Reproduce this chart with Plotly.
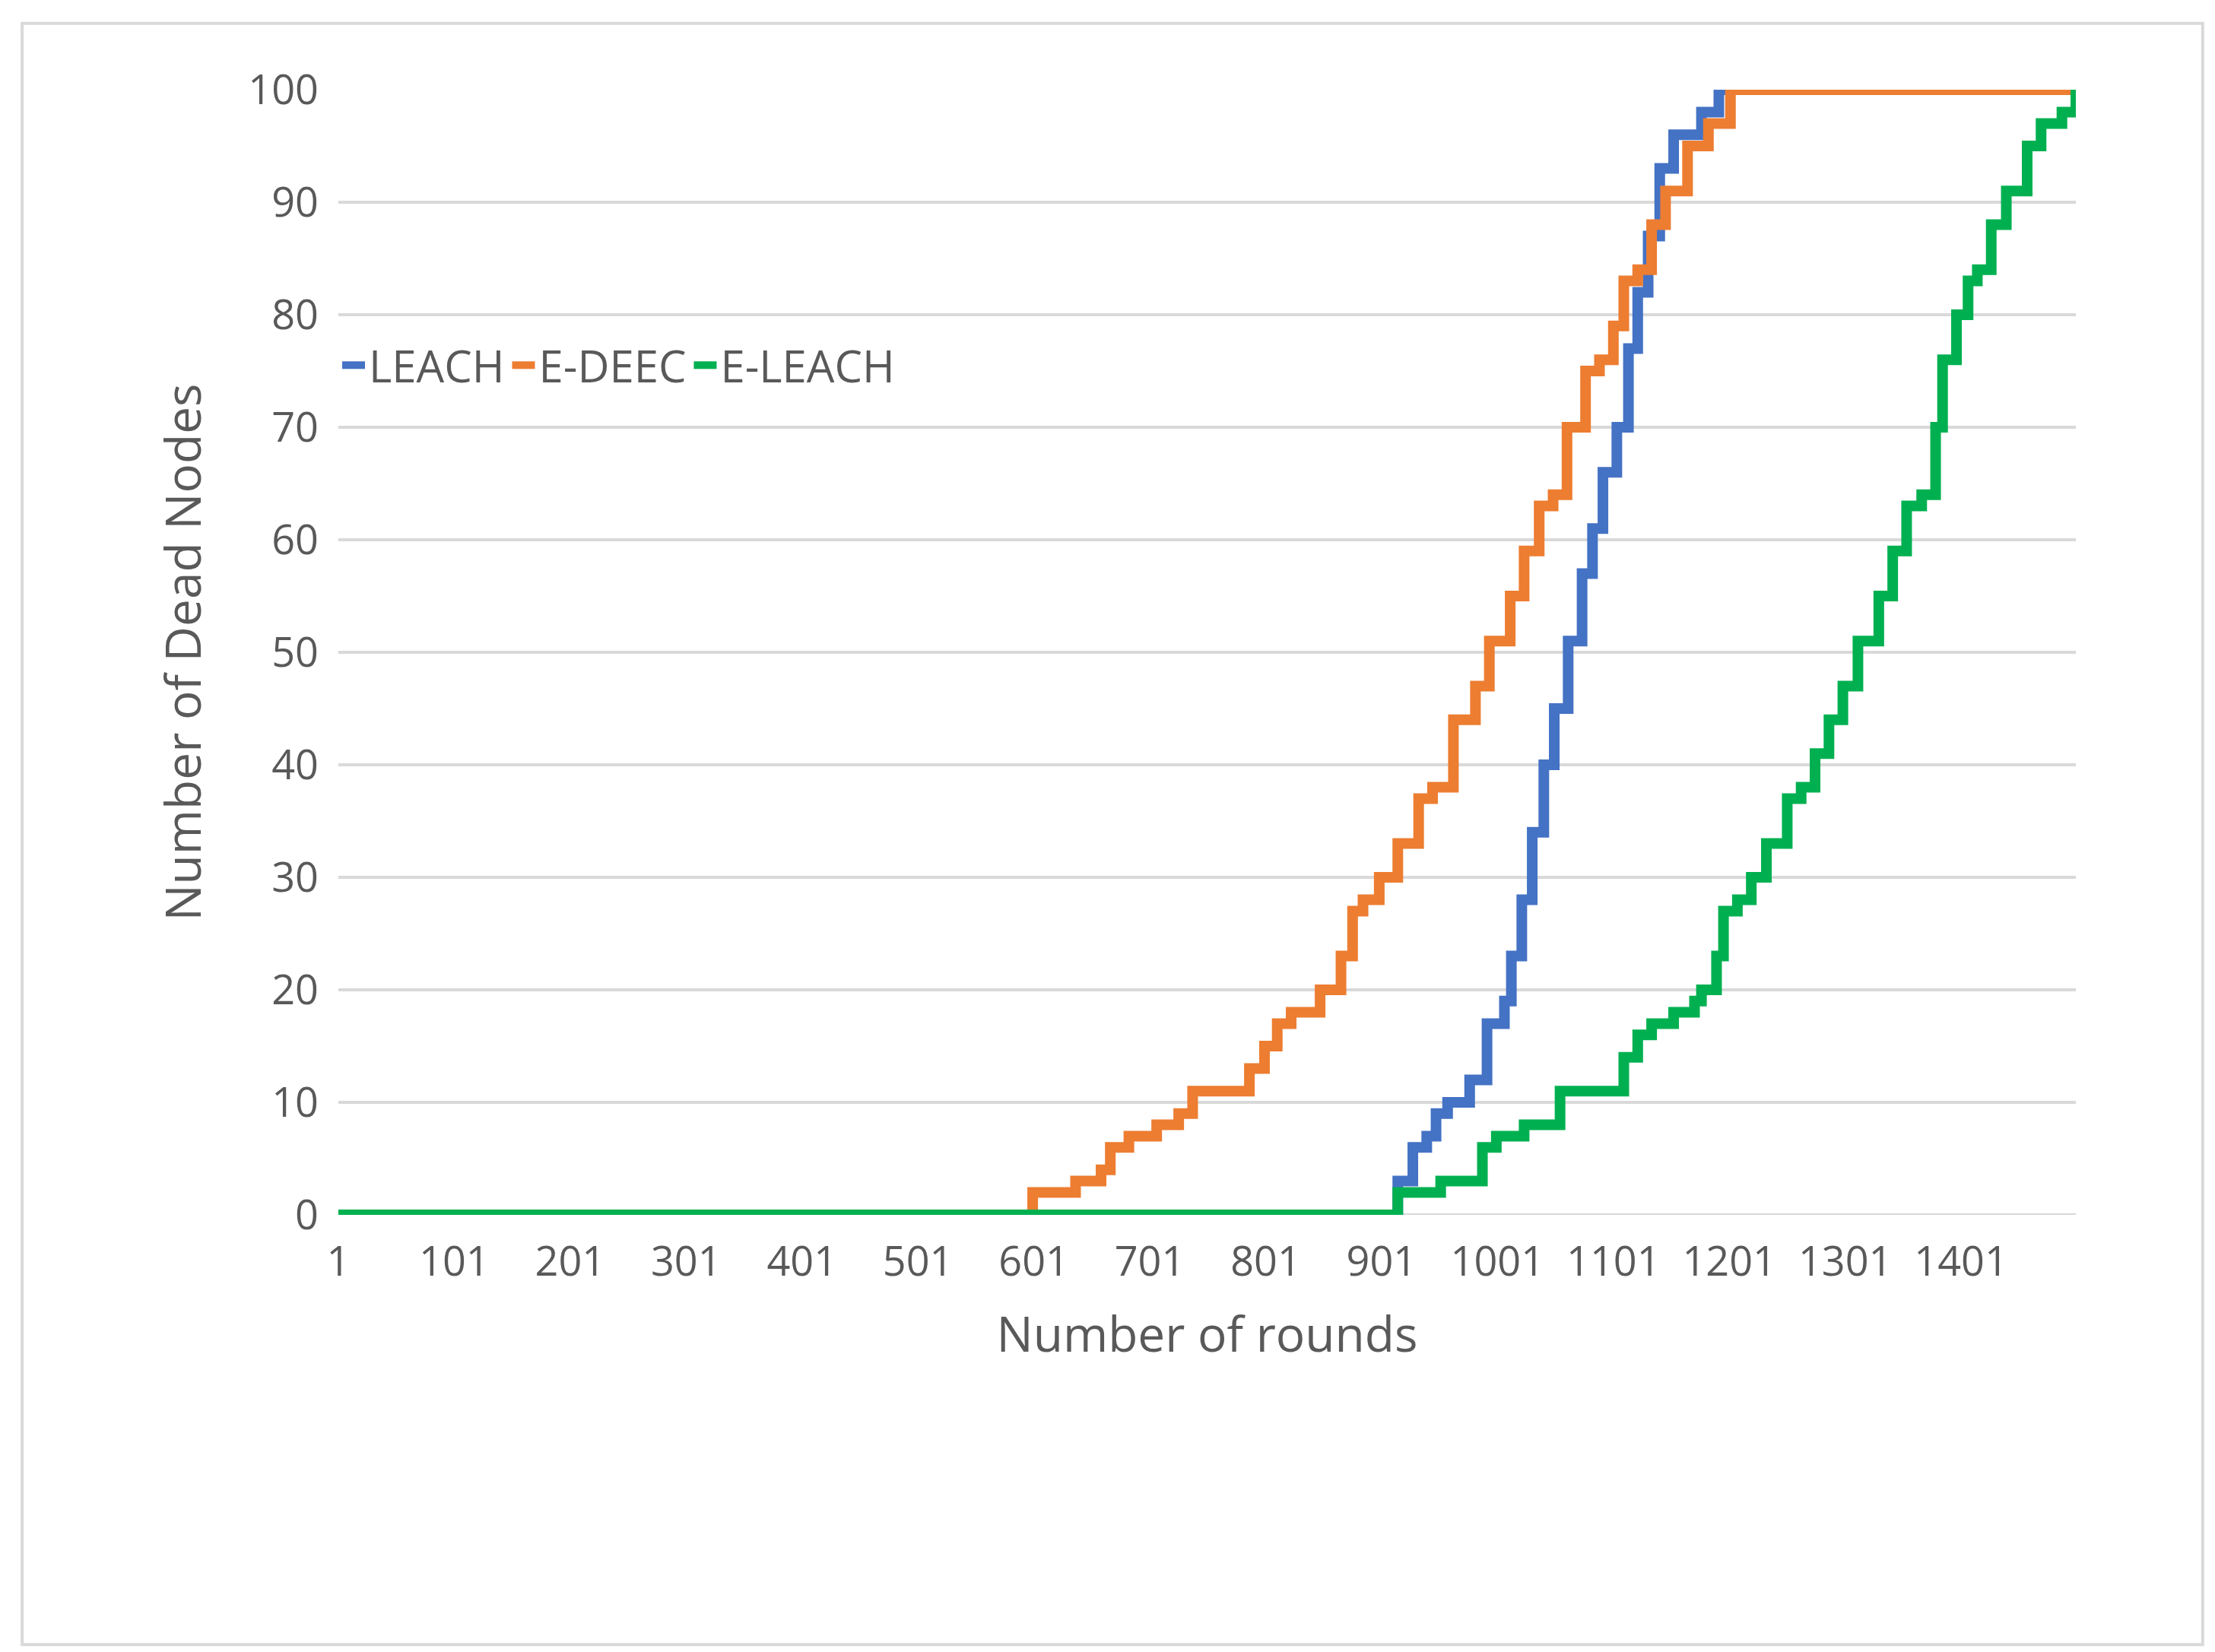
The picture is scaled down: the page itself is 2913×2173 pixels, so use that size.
import plotly.graph_objects as go

leach_x = [1, 903, 915, 928, 940, 948, 958, 977, 992, 1007, 1013, 1022, 1031, 1041, 1050, 1062, 1074, 1083, 1092, 1104, 1114, 1122, 1131, 1141, 1153, 1177, 1192, 1500]
leach_y = [0, 0, 3, 6, 7, 9, 10, 12, 17, 19, 23, 28, 34, 40, 45, 51, 57, 61, 66, 70, 77, 82, 87, 93, 96, 98, 100, 100]
edeec_x = [1, 594, 600, 637, 659, 667, 683, 707, 726, 738, 780, 787, 800, 811, 823, 848, 866, 876, 885, 899, 915, 933, 945, 963, 982, 994, 1012, 1024, 1037, 1049, 1061, 1077, 1089, 1101, 1110, 1122, 1134, 1146, 1165, 1183, 1202, 1500]
edeec_y = [0, 0, 2, 3, 4, 6, 7, 8, 9, 11, 11, 13, 15, 17, 18, 20, 23, 27, 28, 30, 33, 37, 38, 44, 47, 51, 55, 59, 63, 64, 70, 75, 76, 79, 83, 84, 88, 91, 95, 97, 100, 100]
eleach_x = [1, 912, 915, 952, 988, 1000, 1024, 1055, 1098, 1110, 1122, 1134, 1153, 1171, 1177, 1190, 1196, 1208, 1220, 1233, 1251, 1263, 1275, 1287, 1299, 1312, 1330, 1342, 1354, 1367, 1379, 1385, 1397, 1407, 1415, 1427, 1440, 1458, 1470, 1488, 1500]
eleach_y = [0, 0, 2, 3, 6, 7, 8, 11, 11, 14, 16, 17, 18, 19, 20, 23, 27, 28, 30, 33, 37, 38, 41, 44, 47, 51, 55, 59, 63, 64, 70, 76, 80, 83, 84, 88, 91, 95, 97, 98, 100]
tick_vals = list(range(1, 1402, 100))
tick_text = [str(v) for v in tick_vals]

fig = go.Figure()
for name, xs, ys, c in [("LEACH", leach_x, leach_y, "#4472C4"),
                        ("E-DEEC", edeec_x, edeec_y, "#ED7D31"),
                        ("E-LEACH", eleach_x, eleach_y, "#00B050")]:
    fig.add_trace(go.Scatter(x=xs, y=ys, name=name, mode="lines", line=dict(color=c, width=14, shape="hv")))

fig.update_layout(
    width=2913, height=2173, paper_bgcolor="white", plot_bgcolor="white",
    margin=dict(l=437, r=191, t=110, b=583),
    font=dict(family="Open Sans", color="#595959", size=54),
    showlegend=True,
    legend=dict(orientation="h", x=0.0, y=0.755, xanchor="left", yanchor="middle",
                font=dict(size=58), bgcolor="rgba(0,0,0,0)"),
    xaxis=dict(range=[1, 1500], tickvals=tick_vals, ticktext=tick_text, showgrid=False,
               showline=False, ticks="", ticklabelstandoff=25,
               title=dict(text="Number of rounds", font=dict(size=64), standoff=40),
               zeroline=False),
    yaxis=dict(range=[0, 100], dtick=10, showgrid=True, gridcolor="#D9D9D9", gridwidth=4,
               zeroline=False, ticks="", ticklabelstandoff=25,
               title=dict(text="Number of Dead Nodes", font=dict(size=64), standoff=40)),
    shapes=[dict(type="line", xref="paper", yref="y", x0=0, x1=1, y0=0, y1=0, line=dict(color="#D9D9D9", width=4), layer="below"),
            dict(type="rect", xref="paper", yref="paper", x0=-0.182, x1=1.073, y0=-0.382, y1=1.059,
                 line=dict(color="#D9D9D9", width=4))],
)
fig.write_html("out.html")
